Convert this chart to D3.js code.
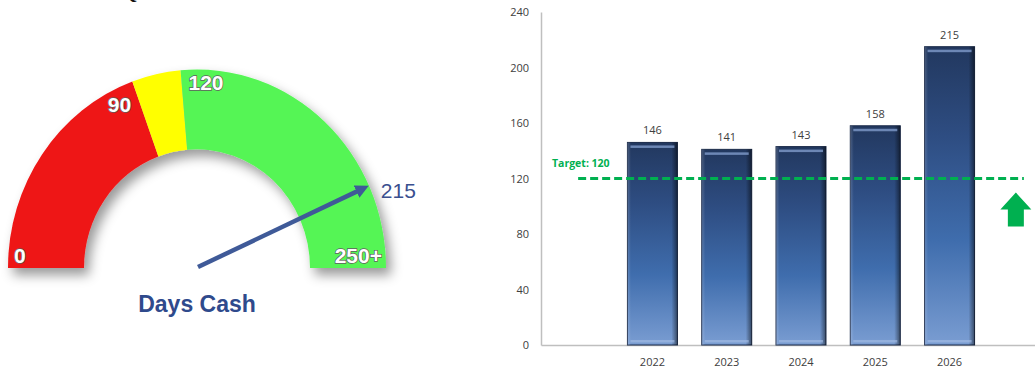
<!DOCTYPE html>
<html>
<head>
<meta charset="utf-8">
<script src="https://cdn.jsdelivr.net/npm/d3@7"></script>
<style>
  html, body { margin: 0; padding: 0; background: #fff; }
  svg { display: block; }
</style>
</head>
<body>
<svg id="chart" width="1035" height="369"></svg>
<script>
// gauge data
const gaugeBreaks = [0, 90, 120, 250]
const gaugeColors = ["#EE1818", "#FFFF00", "#55F555"]
const gaugeLabels = ["0", "90", "120", "250+"]
const gaugeValue = 215
const gaugeTitle = "Days Cash"

// bar data
const years = ["2022", "2023", "2024", "2025", "2026"]
const daysCash = [146, 141, 143, 158, 215]
const yTicks = [0, 40, 80, 120, 160, 200, 240]
const target = 120

const svg = d3.select("#chart")
const defs = svg.append("defs")

// ---------- gauge ----------
const cx = 197, cy = 268, rOuter = 189, rInner = 113, stretch = 1.05

// angle in degrees measured from the left end of the dial
const angle = d3.scaleLinear().domain(gaugeBreaks).range([0, 70, 85, 180]).clamp(true)
const polar = (v, r) => {
  const a = angle(v) * Math.PI / 180
  return [cx - r * Math.cos(a), cy - r * Math.sin(a) * stretch]
}

const shadow = defs.append("filter").attr("id", "shadow")
  .attr("x", "-20%").attr("y", "-20%").attr("width", "140%").attr("height", "150%")
shadow.append("feDropShadow")
  .attr("dx", 5).attr("dy", 7).attr("stdDeviation", 6)
  .attr("flood-color", "#000").attr("flood-opacity", 0.4)

const arc = d3.arc().innerRadius(rInner).outerRadius(rOuter)
const segs = gaugeColors.map((c, i) => ({ from: gaugeBreaks[i], to: gaugeBreaks[i + 1], color: c }))

const gauge = svg.append("g").attr("filter", "url(#shadow)")
gauge.append("g")
  .attr("transform", `translate(${cx},${cy}) scale(1,${stretch})`)
  .selectAll("path")
  .data(segs)
  .join("path")
    .attr("d", d => arc({
      startAngle: (angle(d.from) - 90) * Math.PI / 180,
      endAngle: (angle(d.to) - 90) * Math.PI / 180
    }))
    .attr("fill", d => d.color)

// label placement along the dial
const labelPlace = [
  { r: rOuter, anchor: "start", dx: 6, dy: -5 },
  { r: 172, anchor: "end", dx: -7, dy: 14 },
  { r: rOuter, anchor: "start", dx: 8, dy: 20 },
  { r: rOuter, anchor: "end", dx: -4, dy: -5 }
]
svg.append("g").selectAll("text")
  .data(gaugeLabels)
  .join("text")
    .attr("x", (d, i) => polar(gaugeBreaks[i], labelPlace[i].r)[0] + labelPlace[i].dx)
    .attr("y", (d, i) => polar(gaugeBreaks[i], labelPlace[i].r)[1] + labelPlace[i].dy)
    .attr("text-anchor", (d, i) => labelPlace[i].anchor)
    .attr("font-family", "Liberation Sans, Arial, sans-serif")
    .attr("font-weight", "bold")
    .attr("font-size", 21)
    .attr("fill", "#fff")
    .attr("stroke", "#5e5e5e")
    .attr("stroke-width", 1.4)
    .attr("paint-order", "stroke")
    .text(d => d)

// needle
defs.append("marker").attr("id", "tip")
  .attr("viewBox", "0 0 10 10").attr("refX", 6).attr("refY", 5)
  .attr("markerWidth", 3).attr("markerHeight", 3).attr("orient", "auto")
  .append("path").attr("d", "M0,0 L10,5 L0,10 z").attr("fill", "#3F5A98")

const na = angle(gaugeValue) * Math.PI / 180
const tipX = cx - (rOuter - 4) * Math.cos(na)
const tipY = cy - (rOuter - 4) * Math.sin(na)
svg.append("line")
  .attr("x1", cx + 1).attr("y1", cy - 1)
  .attr("x2", tipX).attr("y2", tipY)
  .attr("stroke", "#3F5A98").attr("stroke-width", 4.5)
  .attr("marker-end", "url(#tip)")

svg.append("text")
  .attr("x", tipX + 17).attr("y", tipY + 10)
  .attr("font-family", "Liberation Sans, Arial, sans-serif")
  .attr("font-size", 21)
  .attr("fill", "#3A4F8F")
  .text(gaugeValue)

svg.append("text")
  .attr("x", cx).attr("y", 312)
  .attr("text-anchor", "middle")
  .attr("font-family", "Liberation Sans, Arial, sans-serif")
  .attr("font-weight", "bold")
  .attr("font-size", 23)
  .attr("fill", "#2F4A8C")
  .text(gaugeTitle)

// cut-off heading letter at the very top
svg.append("text")
  .attr("x", 118).attr("y", -2)
  .attr("font-family", "Liberation Serif, serif")
  .attr("font-size", 26)
  .attr("fill", "#111")
  .text("Q")

// ---------- bar chart ----------
const slots = ["pre", ...years, "post"]
const x = d3.scaleBand().domain(slots).range([541, 1061]).padding(0)
const y = d3.scaleLinear().domain([0, 240]).range([345, 12])
const bw = x.bandwidth()
const barW = bw * 0.673

const grad = defs.append("linearGradient").attr("id", "barGrad")
  .attr("x1", 0).attr("y1", 0).attr("x2", 0).attr("y2", 1)
grad.selectAll("stop")
  .data([["0%", "#22385F"], ["30%", "#2E4D82"], ["65%", "#3F6DAD"], ["100%", "#7A9DD2"]])
  .join("stop").attr("offset", d => d[0]).attr("stop-color", d => d[1])

const side = defs.append("linearGradient").attr("id", "sideGrad")
  .attr("x1", 0).attr("y1", 0).attr("x2", 1).attr("y2", 0)
side.selectAll("stop")
  .data([["0%", "#fff", 0.18], ["7%", "#fff", 0], ["88%", "#000", 0], ["100%", "#000", 0.5]])
  .join("stop").attr("offset", d => d[0]).attr("stop-color", d => d[1]).attr("stop-opacity", d => d[2])

const yAxis = svg.append("g")
  .attr("transform", `translate(${x.range()[0]},0)`)
  .call(d3.axisLeft(y).tickValues(yTicks).tickSize(0).tickPadding(12))
yAxis.select(".domain").attr("stroke", "#BFBFBF").attr("stroke-width", 1.5)
yAxis.selectAll("text")
  .attr("font-family", "Open Sans, sans-serif").attr("font-size", 11).attr("fill", "#404040")

const xAxis = svg.append("g")
  .attr("transform", `translate(0,${y(0)})`)
  .call(d3.axisBottom(x).tickSize(0).tickPadding(13).tickFormat(d => years.includes(d) ? d : ""))
xAxis.select(".domain").attr("stroke", "#BFBFBF").attr("stroke-width", 1.5)
xAxis.selectAll("text")
  .attr("font-family", "Open Sans, sans-serif").attr("font-size", 11).attr("fill", "#404040")

const bars = svg.append("g").selectAll("g")
  .data(years.map((yr, i) => ({ year: yr, value: daysCash[i] })))
  .join("g")
    .attr("transform", d => `translate(${x(d.year) + (bw - barW) / 2},0)`)

bars.append("rect")
  .attr("y", d => y(d.value)).attr("width", barW)
  .attr("height", d => y(0) - y(d.value))
  .attr("fill", "url(#barGrad)")
  .attr("stroke", "#1B2B4A").attr("stroke-width", 1)
bars.append("rect")
  .attr("y", d => y(d.value)).attr("width", barW)
  .attr("height", d => y(0) - y(d.value))
  .attr("fill", "url(#sideGrad)")
bars.append("rect")
  .attr("x", 3).attr("y", d => y(d.value) + 3)
  .attr("width", barW - 6).attr("height", 2.5)
  .attr("fill", "#7F9BCB").attr("opacity", 0.8)
bars.append("rect")
  .attr("x", 3).attr("y", y(0) - 5)
  .attr("width", barW - 6).attr("height", 2.5)
  .attr("fill", "#A9C0E6").attr("opacity", 0.6)

bars.append("text")
  .attr("x", barW / 2).attr("y", d => y(d.value) - 8)
  .attr("text-anchor", "middle")
  .attr("font-family", "Open Sans, sans-serif").attr("font-size", 11).attr("fill", "#404040")
  .text(d => d.value)

// target line
const tx1 = x("pre") + bw / 2, tx2 = x("post") + bw / 2
svg.append("line")
  .attr("x1", tx1).attr("x2", tx2)
  .attr("y1", y(target)).attr("y2", y(target))
  .attr("stroke", "#00B050").attr("stroke-width", 3)
  .attr("stroke-dasharray", "8 4")

svg.append("text")
  .attr("x", x("pre") + 11).attr("y", y(target) - 12)
  .attr("font-family", "Open Sans, sans-serif").attr("font-weight", "bold")
  .attr("font-size", 10.5).attr("fill", "#00B050")
  .text(`Target: ${target}`)

// up arrow
svg.append("path")
  .attr("transform", `translate(${tx2 - 8},${y(target) + 14})`)
  .attr("d", "M0,0 L15.5,17 L8,17 L8,34 L-8,34 L-8,17 L-15.5,17 Z")
  .attr("fill", "#00B050")
</script>
</body>
</html>
